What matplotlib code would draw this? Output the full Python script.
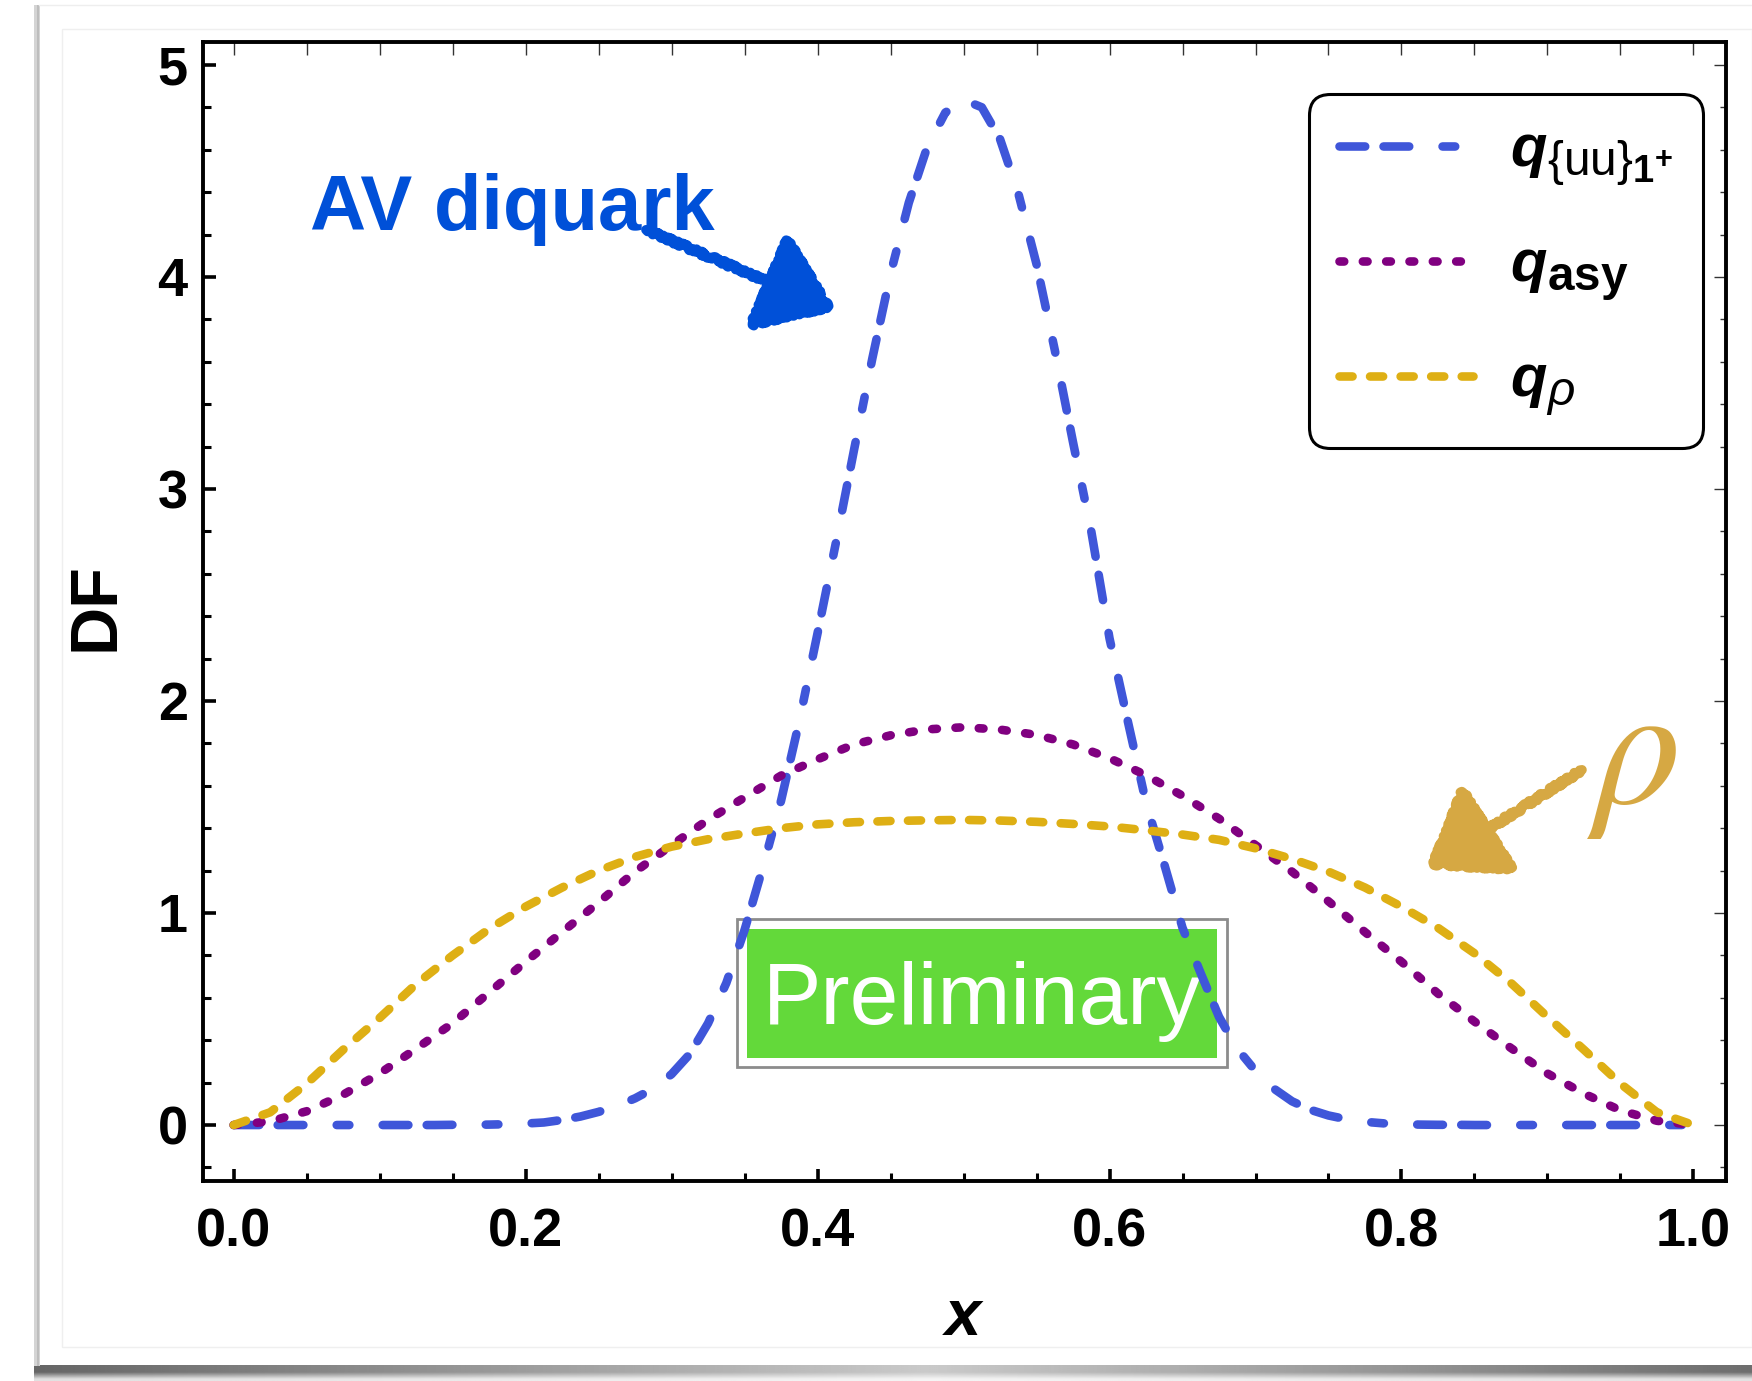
import numpy as np
import matplotlib
matplotlib.use('Agg')
import matplotlib.pyplot as plt
import matplotlib._mathtext as mtext
from matplotlib.patches import Rectangle
from matplotlib.lines import Line2D
from matplotlib.ticker import MultipleLocator

# Fonts
plt.rcParams['font.family'] = ['Liberation Sans', 'DejaVu Sans']
plt.rcParams['font.weight'] = 'bold'
plt.rcParams['mathtext.fontset'] = 'custom'
plt.rcParams['mathtext.rm'] = 'Liberation Sans:weight=normal'
plt.rcParams['mathtext.it'] = 'Liberation Sans:italic:weight=normal'
plt.rcParams['mathtext.bf'] = 'Liberation Sans:bold'
plt.rcParams['mathtext.bfit'] = 'Liberation Sans:italic:bold'
plt.rcParams['lines.scale_dashes'] = False
mtext.SHRINK_FACTOR = 0.8  # larger subscripts, like the original labels

# Data
x_av = np.linspace(0.0, 1.0, 81)  # step 0.0125
q_av = [0, 0, 0, 0, 0, 0, 0, 0, 0, 0, 0, 0,
        0.001, 0.001, 0.002, 0.004, 0.007, 0.012, 0.024, 0.040, 0.062, 0.090,
        0.126, 0.172, 0.240, 0.335, 0.480, 0.670, 0.920, 1.215, 1.530, 1.905,
        2.320, 2.745, 3.185, 3.615, 4.015, 4.350, 4.610, 4.775, 4.835, 4.800,
        4.650, 4.395, 4.060, 3.655, 3.220, 2.800, 2.295, 1.905, 1.520, 1.230,
        0.930, 0.715, 0.510, 0.360, 0.255, 0.172, 0.112, 0.072, 0.045, 0.027,
        0.015, 0.008, 0.004, 0.002, 0.001, 0.001, 0,
        0, 0, 0, 0, 0, 0, 0, 0, 0, 0, 0, 0]

x_broad = np.linspace(0.0, 1.0, 41)  # step 0.025
q_asy = [0, 0.017, 0.065, 0.143, 0.243, 0.360, 0.480, 0.625, 0.770, 0.910,
         1.050, 1.195, 1.320, 1.440, 1.545, 1.648, 1.725, 1.795, 1.838, 1.866,
         1.876, 1.865, 1.840, 1.795, 1.730, 1.650, 1.553, 1.445, 1.320, 1.195,
         1.055, 0.910, 0.770, 0.620, 0.488, 0.363, 0.243, 0.148, 0.069, 0.020, 0]
q_rho = [0, 0.060, 0.195, 0.355, 0.505, 0.665, 0.800, 0.925, 1.030, 1.120,
         1.200, 1.265, 1.313, 1.348, 1.375, 1.400, 1.418, 1.428, 1.434, 1.437,
         1.439, 1.436, 1.430, 1.420, 1.408, 1.390, 1.370, 1.345, 1.305, 1.255,
         1.195, 1.120, 1.030, 0.930, 0.810, 0.670, 0.510, 0.355, 0.195, 0.060, 0]

labels = [r'$\mathbfit{q}_{\{\mathrm{uu}\}_{\mathbf{1}^{\mathbf{+}}}}$',
          r'$\mathbfit{q}_{\mathbf{asy}}$',
          r'$\mathbfit{q}_{\rho}$']

c_av = '#3F56D9'
c_asy = '#800080'
c_rho = '#DEAF14'

W, H = 1752, 1381
fig = plt.figure(figsize=(W / 100, H / 100), dpi=100)
fig.patch.set_facecolor('white')

# screenshot-like frame around the chart
fig.add_artist(Rectangle((34 / W, 15 / H), 6 / W, (H - 20) / H, transform=fig.transFigure,
                         facecolor='#d4d4d4', edgecolor='none'))
fig.add_artist(Rectangle((37 / W, 15 / H), 2 / W, (H - 20) / H, transform=fig.transFigure,
                         facecolor='#bdbdbd', edgecolor='none'))
fig.add_artist(Line2D([39 / W, 1], [1 - 5 / H, 1 - 5 / H], transform=fig.transFigure,
                      color='#eeeeee', lw=1))
fig.add_artist(Rectangle((62 / W, 1 - 1347 / H), (W - 62) / W, (1347 - 29) / H,
                         transform=fig.transFigure, facecolor='none', edgecolor='#efefef', lw=1))
ax_sh = fig.add_axes([34 / W, 0, 1 - 34 / W, 16 / H])
hh = np.linspace(0, 1, 400)
vv = np.linspace(0, 1, 24)
dark = np.outer(np.clip(vv[::-1] * 1.8, 0.2, 1.0), 0.35 + 0.65 * np.abs(hh - 0.52) / 0.52)
ax_sh.imshow(1 - 0.6 * dark, cmap='gray', vmin=0, vmax=1, aspect='auto')
ax_sh.axis('off')

ax = fig.add_axes([203 / W, 1 - 1181 / H, 1523 / W, 1139 / H])

lw = 6.2
ax.plot(x_av, q_av, color=c_av, lw=lw, dashes=(18.5, 13.2, 18.5, 24, 9.1, 24),
        dash_capstyle='round', dash_joinstyle='round', label=labels[0], zorder=5)
ax.plot(x_broad, q_asy, color=c_asy, lw=lw, dashes=(3.4, 13.4),
        dash_capstyle='round', dash_joinstyle='round', label=labels[1], zorder=5)
ax.plot(x_broad, q_rho, color=c_rho, lw=lw, dashes=(9.4, 12.6),
        dash_capstyle='round', dash_joinstyle='round', label=labels[2], zorder=5)

ax.set_xlim(-0.021, 1.0223)
ax.set_ylim(-0.264, 5.108)

ax.xaxis.set_major_locator(MultipleLocator(0.2))
ax.xaxis.set_minor_locator(MultipleLocator(0.05))
ax.yaxis.set_major_locator(MultipleLocator(1))
ax.yaxis.set_minor_locator(MultipleLocator(0.2))

ax.tick_params(which='both', direction='in', top=False, right=False, labelsize=39)
ax.tick_params(which='major', length=9, width=2.6)
ax.tick_params(which='minor', length=5.5, width=2.2)
ax.tick_params(axis='x', pad=19)
ax.tick_params(axis='y', pad=11)
for s in ax.spines.values():
    s.set_linewidth(2.8)

# thin ticks on top and right
secx = ax.secondary_xaxis('top')
secx.xaxis.set_major_locator(MultipleLocator(0.2))
secx.xaxis.set_minor_locator(MultipleLocator(0.05))
secx.tick_params(which='both', direction='in', labeltop=False, width=1, length=9, color='#333333')
secy = ax.secondary_yaxis('right')
secy.yaxis.set_major_locator(MultipleLocator(1))
secy.yaxis.set_minor_locator(MultipleLocator(0.2))
secy.tick_params(which='major', direction='in', labelright=False, width=1, length=9, color='#333333')
secy.tick_params(which='minor', direction='in', labelright=False, width=1, length=4, color='#333333')
for sec in (secx, secy):
    for s in sec.spines.values():
        s.set_visible(False)

# axis labels
ax.set_xlabel('x', fontsize=47, fontstyle='italic', fontweight='bold')
ax.xaxis.set_label_coords(0.499, -0.1352)
ax.xaxis.label.set_va('baseline')
ax.set_ylabel('DF', fontsize=48, fontweight='bold')
ax.yaxis.set_label_coords(-0.0585, 0.504)
ax.yaxis.label.set_va('baseline')

# legend
leg = ax.legend(loc='upper left', bbox_to_anchor=(0.7262, 0.9543), borderaxespad=0,
                prop={'size': 43}, handlelength=2.25, handletextpad=0.62, borderpad=0.5,
                labelspacing=0.85, fancybox=True, framealpha=1, edgecolor='black')
leg.get_frame().set_linewidth(2.2)
leg.get_frame().set_boxstyle('round', pad=0, rounding_size=0.35)

# annotations
ax.text(0.0524, 4.222, 'AV diquark', color='#0050D8', fontsize=56, fontweight='bold',
        ha='left', va='baseline', zorder=6)
a1 = ax.annotate('', xy=(0.412, 3.844), xytext=(0.2825, 4.222), zorder=6,
                 arrowprops=dict(arrowstyle='-|>,head_length=0.9,head_width=0.65', mutation_scale=50,
                                 lw=7, color='#0050D8', shrinkA=0, shrinkB=0,
                                 capstyle='round', joinstyle='round'))
a2 = ax.annotate('', xy=(0.8175, 1.212), xytext=(0.9236, 1.675), zorder=6,
                 arrowprops=dict(arrowstyle='-|>,head_length=0.9,head_width=0.65', mutation_scale=50,
                                 lw=7, color='#D6A843', shrinkA=0, shrinkB=0,
                                 capstyle='round', joinstyle='round'))
for a in (a1, a2):
    a.arrow_patch.set_sketch_params(scale=2, length=6, randomness=6)
ax.text(0.962, 1.52, 'ρ', family=['STIXGeneral', 'DejaVu Serif'], style='italic',
        fontweight='normal', fontsize=125, color='#D6A843', ha='center', va='baseline', zorder=6)

# "Preliminary" stamp
ax.add_patch(Rectangle((0.3447, 0.275), 0.3356, 0.697, facecolor='white',
                       edgecolor='#8c8c8c', lw=2, zorder=3))
ax.add_patch(Rectangle((0.3515, 0.3184), 0.3219, 0.6066, facecolor='#63D93A',
                       edgecolor='none', zorder=3.5))
ax.text(0.5125, 0.476, 'Preliminary', color='white', fontsize=63, fontweight='normal',
        ha='center', va='baseline', zorder=4)

fig.savefig('out.png', dpi=100)
